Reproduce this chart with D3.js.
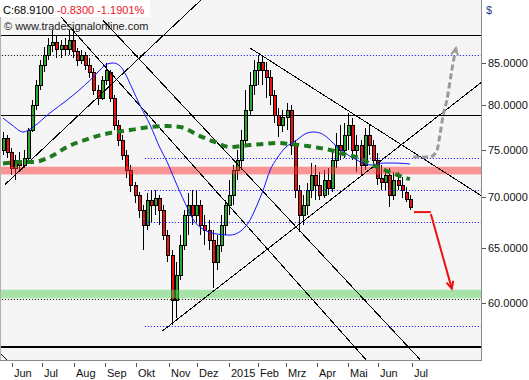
<!DOCTYPE html>
<html><head><meta charset="utf-8">
<script src="https://cdn.jsdelivr.net/npm/d3@7"></script>
<style>
body{margin:0;background:#fff}
svg{display:block}
text{font-family:"Liberation Sans",Arial,sans-serif}
</style>
</head><body>
<svg id="c" width="529" height="380"></svg>
<script>
// ---------- DATA ----------
const opens = [74.95,76.26,74.73,73.02,73.87,73.34,74.08,77.16,80.01,82.36,
84.79,86.03,87.29,87.67,86.66,87.29,86.66,87.92,86.41,85.41,
86.03,84.79,83.93,81.77,80.83,82.96,83.93,80.83,77.72,76.05,
74.41,72.81,71.24,70.21,68.70,67.22,69.70,69.20,69.91,68.70,
66.25,64.35,60.29,62.51,65.30,68.20,69.20,68.20,69.20,67.22,
66.73,65.77,63.70,65.30,67.22,69.20,70.21,72.81,73.87,76.05,
79.43,82.36,84.18,85.16,84.18,83.21,81.18,78.86,77.72,78.52,
79.43,75.50,70.72,68.20,69.20,70.72,72.28,71.24,70.21,71.76,
70.93,73.87,75.50,74.95,76.60,77.72,74.95,75.50,73.34,76.60,
75.50,73.87,71.97,71.55,72.28,70.21,71.76,71.24,70.50,69.74];
const closes = [76.26,74.73,73.02,73.87,73.34,74.08,77.16,80.01,82.36,84.79,
86.03,87.29,87.67,86.66,87.29,86.66,87.92,86.41,85.41,86.03,
84.79,83.93,81.77,80.83,82.96,84.18,80.83,77.72,76.05,74.41,
72.81,71.24,70.21,68.70,67.22,69.70,69.20,69.91,68.70,66.25,
64.35,60.29,62.51,65.30,68.20,69.20,68.20,69.20,67.22,66.73,
65.77,63.70,65.30,67.22,69.20,70.21,72.81,73.87,76.05,79.43,
82.36,84.18,85.16,84.18,83.21,81.18,78.86,77.72,78.52,79.43,
75.50,70.72,68.20,69.20,70.72,72.28,71.24,70.21,71.76,70.93,
73.87,75.50,74.95,76.60,77.72,74.95,75.50,73.34,76.60,75.50,
73.87,71.97,71.55,72.28,70.21,71.76,71.24,70.72,69.74,68.91];
const highs = [76.94,76.60,75.17,74.41,74.73,74.95,77.38,80.59,82.96,85.41,
87.04,88.18,89.21,88.43,87.92,88.18,89.21,89.47,86.91,86.66,
86.41,85.66,84.42,82.36,83.45,85.04,84.18,81.18,78.29,76.60,
74.95,73.34,71.55,70.52,69.20,70.42,70.72,70.72,70.21,69.20,
66.73,64.82,63.70,66.25,68.70,70.42,70.72,70.72,69.70,68.20,
67.71,66.73,66.25,68.20,69.70,71.76,73.34,74.95,77.16,81.77,
83.93,85.41,86.03,86.03,85.16,84.18,81.77,79.66,79.43,80.24,
80.01,76.05,71.24,70.21,71.44,73.55,73.34,72.60,72.81,73.02,
74.95,76.83,77.72,77.95,79.09,78.52,76.60,76.05,77.38,77.72,
76.05,74.63,73.34,73.02,73.02,72.60,72.60,72.07,71.00,70.20];
const lows = [74.41,74.08,72.28,71.76,72.81,73.02,73.87,76.94,79.43,81.77,
83.93,85.41,86.41,85.66,85.66,85.91,86.03,85.66,84.67,84.91,
84.18,83.21,81.18,80.01,80.59,82.36,80.36,77.16,75.39,73.87,
71.97,70.52,69.40,67.91,64.82,66.73,67.51,68.20,67.22,65.77,
63.70,58.14,58.73,62.06,64.82,66.25,67.22,67.51,66.25,65.30,
64.82,61.35,62.97,64.64,66.25,68.20,69.20,71.76,72.81,75.50,
78.86,81.18,82.36,82.36,80.83,80.01,77.95,76.37,76.94,77.16,
74.41,69.91,66.54,67.22,68.20,69.91,69.70,69.70,69.91,70.21,
70.52,73.02,73.87,74.08,74.95,73.87,72.60,72.28,72.81,74.41,
73.02,71.24,70.72,70.72,69.00,69.70,70.72,69.91,69.50,68.70];

const monthLabels = ["Jun","Jul","Aug","Sep","Okt","Nov","Dez","2015","Feb","Mrz","Apr","Mai","Jun","Jul"];
const monthPos    = [2.12,9.42,17.27,24.82,32.29,40.46,47.20,54.99,62.12,68.78,76.47,84.01,91.17,99.59];
const yTicks = [85,80,75,70,65,60];

const blueIdx = [0,2.2,4.9,7.3,11.4,15.6,21.2,23.6,25.3,26.8,28.5,29.9,31.4,33.3,35.8,38.2,39.9,41.8,44.3,46.7,49.1,52.1,55.2,57.7,60.1,61.8,63.3,65.0,66.7,68.6,71.5,73.5,75.4,77.1,78.8,80.8,83.2,86.1,88.1,89.8,92.5,95.4,99.0];
const blueVal = [78.52,77.72,76.94,77.5,79.09,80.59,82.96,84.18,84.91,85.04,84.67,83.57,82.0,80.01,77.72,75.17,73.7,71.76,69.40,67.51,66.73,66.35,66.25,66.6,67.71,69.20,70.72,72.81,74.08,75.17,76.05,76.72,76.94,76.83,76.37,75.50,74.63,73.87,73.45,73.34,73.55,73.55,73.45];

const greenIdx = [0,4.1,7.3,11.4,15.6,21.2,26,30.9,35.8,39.9,43.1,47.9,51.6,55.2,60.1,63.3,66.7,69.8,74,77.1,79.6,83.7,86.9,89.3,91.2,93.4,95.4,97.3,99];
const greenVal = [73.5,73.66,73.66,74.19,75.28,76.26,76.83,77.16,77.5,77.61,77.5,76.49,75.83,75.28,75.5,75.61,75.72,75.61,75.39,75.17,74.95,74.41,74.08,73.45,73.13,72.7,72.39,72.07,71.86];

const solidLevels = [88.56, 78.86];
const thickLevels = [56.31];
const blackDotted = [{v:86.03,from:-1,to:34.5},{v:60.37,from:-1,to:118}];
const blueDotted  = [86.03, 74.08, 70.72, 67.51, 58.05];
const blueDottedFrom = 34.5;
const redBand   = [72.35, 73.16];
const greenBand = [60.45, 61.2];

const trendLines = [
  [[0.5,71.3],[48.2,93.2]],
  [[12.65,91.8],[88.3,55.3]],
  [[24.3,90.5],[101.5,55.3]],
  [[60.1,86.91],[116.5,70.11]],
  [[38.7,57.63],[116.5,82.73]],
  [[-0.97,55.9],[1.22,55.2]]
];
const grayPath = [[99.8,74.19],[103.9,74.19],[105.6,74.95],[106.3,76.6],[107.1,78.86],[108.0,80.59],[109.2,84.18],[110.2,86.9]];
const redFlat  = [[100,68.5],[104.1,68.5]];
const redDrop  = [[104.1,68.3],[109.2,61.3]];

// ---------- CHART ----------
const svg = d3.select("#c");
const PR = 481, PB = 360;
const x = d3.scaleLinear().domain([0,99]).range([3,409.9]);
const y = d3.scaleLog().domain([55.27,93.18]).range([PB,0]);

svg.append("rect").attr("width",529).attr("height",380).attr("fill","#fff");
svg.append("defs").append("clipPath").attr("id","clip")
  .append("rect").attr("x",0).attr("y",0).attr("width",PR).attr("height",PB);
svg.append("rect").attr("x",0).attr("y",0).attr("width",PR).attr("height",PB).attr("fill","#f5f5f5");

const g = svg.append("g").attr("clip-path","url(#clip)");

// candles
const idx = d3.range(closes.length);
const cg = g.append("g");
cg.selectAll("line.w").data(idx).join("line")
  .attr("x1",i=>Math.round(x(i))+0.5).attr("x2",i=>Math.round(x(i))+0.5)
  .attr("y1",i=>y(highs[i])).attr("y2",i=>y(lows[i]))
  .attr("stroke","#000").attr("stroke-width",1).attr("shape-rendering","crispEdges");
cg.selectAll("rect.b").data(idx).join("rect")
  .attr("x",i=>Math.round(x(i))-1)
  .attr("width",3)
  .attr("y",i=>y(Math.max(opens[i],closes[i])))
  .attr("height",i=>Math.max(1,Math.abs(y(opens[i])-y(closes[i]))))
  .attr("fill",i=>closes[i]>=opens[i]?"#2fa52f":"#ee1111")
  .attr("stroke","#000").attr("stroke-width",1).attr("shape-rendering","crispEdges");

// bands
g.append("rect").attr("x",0).attr("width",PR)
  .attr("y",y(redBand[1])).attr("height",y(redBand[0])-y(redBand[1]))
  .attr("fill","rgba(255,50,50,0.5)");
g.append("rect").attr("x",0).attr("width",PR)
  .attr("y",y(greenBand[1])).attr("height",y(greenBand[0])-y(greenBand[1]))
  .attr("fill","rgba(90,210,90,0.5)");

// levels
solidLevels.forEach(v=>g.append("line").attr("x1",0).attr("x2",PR)
  .attr("y1",Math.round(y(v))+0.5).attr("y2",Math.round(y(v))+0.5).attr("stroke","#000"));
thickLevels.forEach(v=>g.append("line").attr("x1",0).attr("x2",PR)
  .attr("y1",Math.round(y(v))).attr("y2",Math.round(y(v))).attr("stroke","#000").attr("stroke-width",2));
blackDotted.forEach(d=>g.append("line").attr("x1",x(d.from)).attr("x2",Math.min(PR,x(d.to)))
  .attr("y1",Math.round(y(d.v))+0.5).attr("y2",Math.round(y(d.v))+0.5)
  .attr("stroke","#000").attr("stroke-dasharray","1,2"));
blueDotted.forEach(v=>g.append("line").attr("x1",x(blueDottedFrom)).attr("x2",PR)
  .attr("y1",Math.round(y(v))+0.5).attr("y2",Math.round(y(v))+0.5)
  .attr("stroke","#0000ff").attr("stroke-dasharray","1,2"));

// trend lines
trendLines.forEach(t=>g.append("line")
  .attr("x1",x(t[0][0])).attr("y1",y(t[0][1]))
  .attr("x2",x(t[1][0])).attr("y2",y(t[1][1]))
  .attr("stroke","#000").attr("stroke-width",1).attr("shape-rendering","crispEdges"));

// moving averages
const ln = d3.line().x(d=>x(d[0])).y(d=>y(d[1])).curve(d3.curveMonotoneX);
g.append("path").attr("d",ln(blueIdx.map((v,i)=>[v,blueVal[i]])))
  .attr("fill","none").attr("stroke","#1515ff").attr("stroke-width",1);
g.append("path").attr("d",ln(greenIdx.map((v,i)=>[v,greenVal[i]])))
  .attr("fill","none").attr("stroke","#1f7a1f").attr("stroke-width",4).attr("stroke-dasharray","7,5");

// projections
function head(p1,p2,col,w,len){
  const a=Math.atan2(p2[1]-p1[1],p2[0]-p1[0]);
  const s=0.45;
  const pts=[[p2[0]-len*Math.cos(a-s),p2[1]-len*Math.sin(a-s)],p2,[p2[0]-len*Math.cos(a+s),p2[1]-len*Math.sin(a+s)]];
  g.append("path").attr("d",d3.line()(pts)).attr("fill","none").attr("stroke",col).attr("stroke-width",w);
}
const gp = grayPath.map(d=>[x(d[0]),y(d[1])]);
g.append("path").attr("d",d3.line().curve(d3.curveMonotoneX)(gp))
  .attr("fill","none").attr("stroke","#9a9a9a").attr("stroke-width",3).attr("stroke-dasharray","6,3");
head(gp[gp.length-2],gp[gp.length-1],"#9a9a9a",2,8);
g.append("path").attr("d",d3.line()(redFlat.map(d=>[x(d[0]),y(d[1])])))
  .attr("fill","none").attr("stroke","#ee1111").attr("stroke-width",2);
const rd = redDrop.map(d=>[x(d[0]),y(d[1])]);
g.append("path").attr("d",d3.line()(rd)).attr("fill","none").attr("stroke","#ee1111").attr("stroke-width",2);
head(rd[0],rd[1],"#ee1111",2,8);

// borders
svg.append("line").attr("x1",PR+0.5).attr("x2",PR+0.5).attr("y1",0).attr("y2",PB+1).attr("stroke","#8a8a8a");
svg.append("line").attr("x1",0).attr("x2",PR+1).attr("y1",PB+0.5).attr("y2",PB+0.5).attr("stroke","#8a8a8a");
svg.append("line").attr("x1",0.5).attr("x2",0.5).attr("y1",0).attr("y2",PB).attr("stroke","#b0b0b0");

// y axis
yTicks.forEach(v=>{
  const yy=Math.round(y(v))+0.5;
  svg.append("line").attr("x1",PR+1).attr("x2",PR+5).attr("y1",yy).attr("y2",yy).attr("stroke","#555");
  svg.append("text").attr("x",488).attr("y",yy).attr("dy","0.36em")
    .attr("font-size",11).attr("fill","#111").text(d3.format(".4f")(v));
});
svg.append("text").attr("x",486).attr("y",14).attr("font-size",11).attr("fill","#1a3c8a").text("$");

// x axis
monthLabels.forEach((m,i)=>{
  const xx=Math.round(x(monthPos[i]))+0.5;
  svg.append("line").attr("x1",xx).attr("x2",xx).attr("y1",363).attr("y2",367).attr("stroke","#555");
  svg.append("text").attr("x",xx+1.5).attr("y",377).attr("font-size",11).attr("fill","#111").text(m);
});

// header
svg.append("rect").attr("x",0).attr("y",0).attr("width",150).attr("height",17).attr("fill","#fff");
const t1 = svg.append("text").attr("x",3).attr("y",14).attr("font-size",11);
t1.append("tspan").attr("fill","#000").text("C:68.9100 ");
t1.append("tspan").attr("fill","#ee1122").text("-0.8300 -1.1901%");
svg.append("text").attr("x",4).attr("y",30).attr("font-size",11).attr("fill","#222").text("© www.tradesignalonline.com");
</script>
</body></html>
